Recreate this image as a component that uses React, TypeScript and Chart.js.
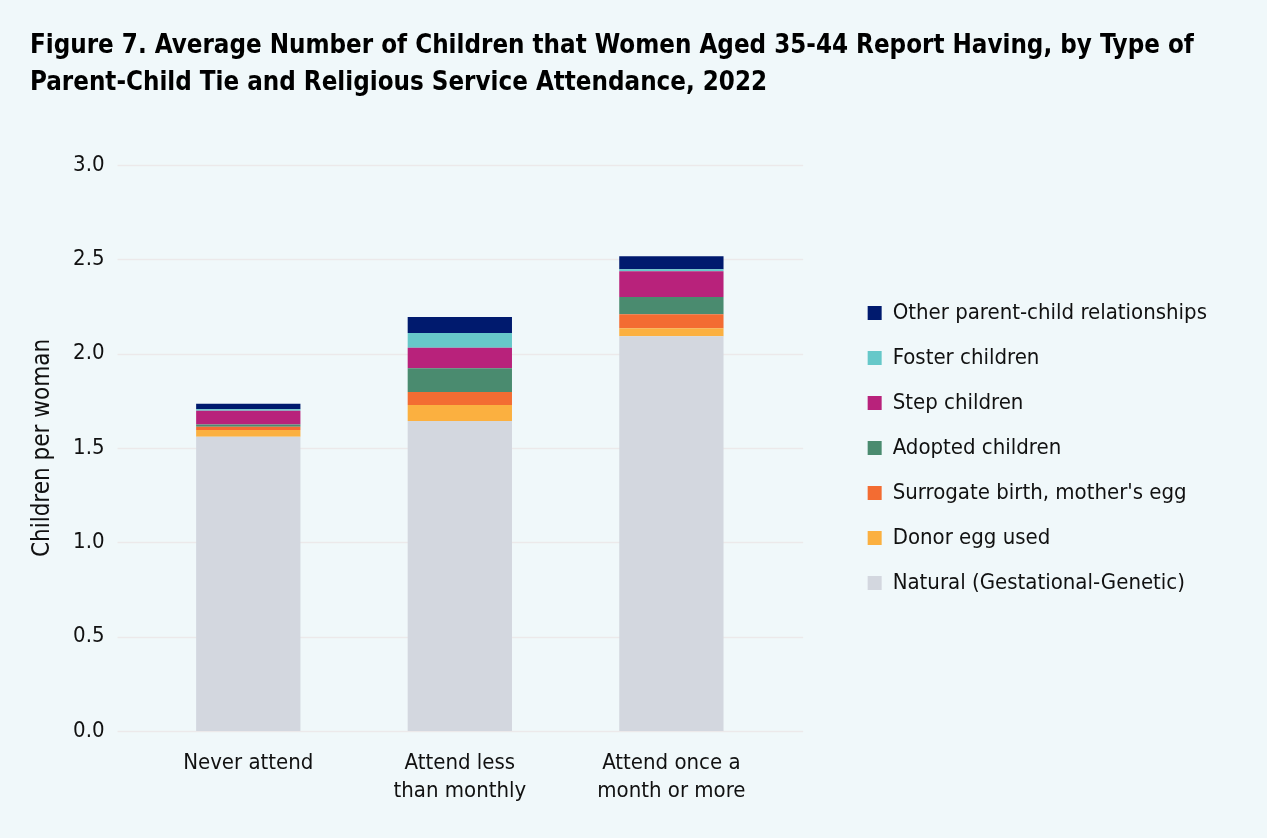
import React, { useEffect, useRef } from "react";
import { Chart, registerables } from "chart.js";

Chart.register(...registerables);

const categories: string[][] = [["Never attend"], ["Attend less", "than monthly"], ["Attend once a", "month or more"]];

const natural = [1.56, 1.643, 2.093];
const donorEgg = [0.035, 0.085, 0.042];
const surrogate = [0.018, 0.069, 0.074];
const adopted = [0.011, 0.126, 0.092];
const stepChildren = [0.074, 0.108, 0.136];
const fosterChildren = [0.007, 0.079, 0.011];
const otherRelationships = [0.03, 0.085, 0.069];

const yTicks = [0, 0.5, 1.0, 1.5, 2.0, 2.5, 3.0];

const titleLines = [
  "Figure 7. Average Number of Children that Women Aged 35-44 Report Having, by Type of",
  "Parent-Child Tie and Religious Service Attendance, 2022",
];

const FONT = "'DejaVu Sans Condensed', 'Liberation Sans Narrow', sans-serif";
const BG = "#F0F8FA";

const gridPlugin = {
  id: "extGrid",
  beforeDatasetsDraw(chart: any) {
    const { ctx, chartArea, scales } = chart;
    const y = scales.y;
    ctx.save();
    ctx.strokeStyle = "#ECE9EA";
    ctx.lineWidth = 1.5;
    yTicks.forEach((v) => {
      const py = Math.round(y.getPixelForValue(v)) + 0.5;
      ctx.beginPath();
      ctx.moveTo(chartArea.left - 25, py);
      ctx.lineTo(chartArea.right + 26, py);
      ctx.stroke();
    });
    ctx.restore();
  },
};

export default function App() {
  const ref = useRef<HTMLCanvasElement | null>(null);
  useEffect(() => {
    document.body.style.margin = "0";
    document.body.style.background = BG;
    if (!ref.current) return;
    const mk = (label: string, data: number[], color: string) => ({
      label,
      data,
      backgroundColor: color,
      borderWidth: 0,
      categoryPercentage: 1,
      barPercentage: 0.493,
      yAxisID: "y",
    });
    const chart = new Chart(ref.current, {
      type: "bar",
      data: {
        labels: categories,
        datasets: [
          mk("Natural (Gestational-Genetic)", natural, "#D3D7DF"),
          mk("Donor egg used", donorEgg, "#FBB040"),
          mk("Surrogate birth, mother's egg", surrogate, "#F36C32"),
          mk("Adopted children", adopted, "#4A8B6F"),
          mk("Step children", stepChildren, "#B8227B"),
          mk("Foster children", fosterChildren, "#66C8C9"),
          mk("Other parent-child relationships", otherRelationships, "#001A6E"),
        ],
      },
      options: {
        animation: false,
        responsive: false,
        maintainAspectRatio: false,
        layout: { padding: { left: 30, right: 50, top: 0, bottom: 14 } },
        plugins: {
          title: {
            display: true,
            text: titleLines,
            align: "start",
            color: "#000",
            font: { family: FONT, size: 25.7, weight: "bold", lineHeight: 1.44 },
            padding: { top: 28, bottom: 63 },
          },
          legend: {
            position: "right",
            reverse: true,
            fullSize: false,
            maxWidth: 500,
            labels: {
              boxWidth: 14,
              boxHeight: 14,
              padding: 23,
              color: "#111",
              font: { family: FONT, size: 22 },
            },
          },
          tooltip: { enabled: false },
        },
        scales: {
          x: {
            stacked: true,
            grid: { display: false, drawTicks: false },
            border: { display: false },
            ticks: { color: "#111", font: { family: FONT, size: 22, lineHeight: 1.25 }, padding: 19 },
          },
          y: {
            stacked: true,
            min: 0,
            max: 3,
            grid: { display: false, drawTicks: false },
            border: { display: false },
            afterBuildTicks: (s: any) => {
              s.ticks = yTicks.map((v) => ({ value: v }));
            },
            afterFit: (s: any) => {
              s.width = 112.5;
            },
            ticks: {
              color: "#111",
              font: { family: FONT, size: 22 },
              padding: 38,
              callback: (v: any) => Number(v).toFixed(1),
            },
            title: {
              display: true,
              text: "Children per woman",
              color: "#111",
              font: { family: FONT, size: 24 },
              padding: { top: -2, bottom: 0 },
            },
          },
          y2: {
            position: "right",
            display: true,
            grid: { display: false, drawTicks: false },
            border: { display: false },
            ticks: { display: false },
            afterFit: (s: any) => {
              s.width = 67.5;
            },
          },
        },
      },
      plugins: [gridPlugin],
    });
    return () => chart.destroy();
  }, []);
  return (
    <div style={{ width: 1267, height: 838, background: BG }}>
      <canvas ref={ref} width={1267} height={838} style={{ display: "block", width: 1267, height: 838 }} />
    </div>
  );
}
